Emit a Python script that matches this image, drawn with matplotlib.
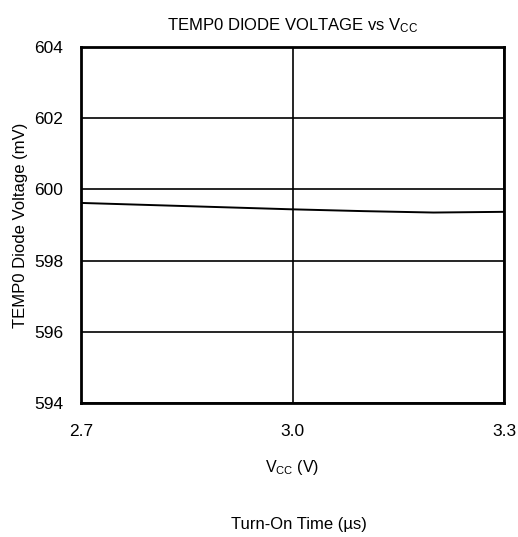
import matplotlib.pyplot as plt

# supply voltage (V) and diode voltage (mV)
vcc = [2.7, 2.8, 2.9, 3.0, 3.1, 3.2, 3.3]
diode_mv = [599.62, 599.56, 599.50, 599.44, 599.39, 599.35, 599.37]

plt.rcParams['font.family'] = ['Liberation Sans Narrow', 'Liberation Sans', 'DejaVu Sans']

fig = plt.figure(figsize=(5.18, 5.37), dpi=100)
ax = fig.add_axes([81 / 518, 1 - 403 / 537, 423 / 518, 356 / 537])

ax.plot(vcc, diode_mv, color='black', lw=1.4)

ax.set_xlim(2.7, 3.3)
ax.set_ylim(594, 604)
ax.set_xticks([2.7, 3.0, 3.3])
ax.set_xticklabels(['2.7', '3.0', '3.3'])
ax.set_yticks([594, 596, 598, 600, 602, 604])
ax.grid(True, color='black', lw=1.2)
ax.tick_params(length=0, labelsize=12.5)
ax.tick_params(axis='x', pad=15)
ax.tick_params(axis='y', pad=13)
for s in ax.spines.values():
    s.set_linewidth(2)

ax.set_title('TEMP0 DIODE VOLTAGE vs $\\mathregular{V_{CC}}$', fontsize=12, pad=12)
ax.set_ylabel('TEMP0 Diode Voltage (mV)', fontsize=12, labelpad=4)
ax.set_xlabel('$\\mathregular{V_{CC}}$ (V)', fontsize=11.5, labelpad=14)
fig.text(0.5 + 40 / 518, 1 - 525 / 537, 'Turn-On Time (µs)', ha='center', va='center', fontsize=12)

fig.savefig('out.png', dpi=100)
